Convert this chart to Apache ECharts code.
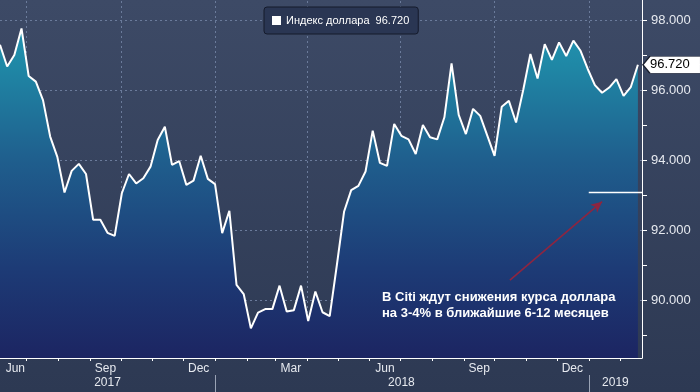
<!DOCTYPE html>
<html>
<head>
<meta charset="utf-8">
<script src="https://cdn.jsdelivr.net/npm/echarts@6/dist/echarts.min.js"></script>
<style>
html,body{margin:0;padding:0;background:#303d58;}
#chart{width:700px;height:392px;}
</style>
</head>
<body>
<div id="chart"></div>
<script>
// ---- data ----
const seriesName = 'Индекс доллара';
const firstWeek = '2017-06-05';          // weekly observations
const dollarIndex = [
  97.29, 96.67, 97.00, 97.76, 96.40, 96.24, 95.71, 94.67, 94.09, 93.07,
  93.69, 93.89, 93.60, 92.29, 92.29, 91.92, 91.83, 93.05, 93.60, 93.33,
  93.48, 93.81, 94.57, 94.95, 93.86, 93.97, 93.29, 93.41, 94.12, 93.46,
  93.31, 91.91, 92.55, 90.43, 90.17, 89.19, 89.64, 89.74, 89.74, 90.41,
  89.67, 89.71, 90.41, 89.40, 90.24, 89.65, 89.54, 91.00, 92.52, 93.14,
  93.26, 93.67, 94.84, 93.92, 93.83, 95.03, 94.69, 94.59, 94.17, 95.00,
  94.65, 94.59, 95.22, 96.76, 95.29, 94.74, 95.46, 95.26, 94.69, 94.12,
  95.52, 95.69, 95.07, 96.00, 97.03, 96.33, 97.31, 96.86, 97.36, 96.97,
  97.41, 97.12, 96.60, 96.14, 95.92, 96.07, 96.31, 95.83, 96.08, 96.72
];
const lastValue = 96.72;
const xMin = '2017-06-05';
const xMax = '2019-02-22';
const yMin = 88.343;
const yMax = 98.571;
const yLabelValues = [90, 92, 94, 96, 98];
const yTickValues = [89, 90, 91, 92, 93, 94, 95, 96, 97, 98];
const monthTicks = ['2017-07-01','2017-08-01','2017-09-01','2017-10-01','2017-11-01','2017-12-01',
  '2018-01-01','2018-02-01','2018-03-01','2018-04-01','2018-05-01','2018-06-01','2018-07-01',
  '2018-08-01','2018-09-01','2018-10-01','2018-11-01','2018-12-01','2019-01-01','2019-02-01'];
const monthLabelDates = ['2017-06-20','2017-09-16','2017-12-16','2018-03-16','2018-06-16','2018-09-16','2018-12-16'];
const monthNames = ['Jan','Feb','Mar','Apr','May','Jun','Jul','Aug','Sep','Oct','Nov','Dec'];
const yearSeparators = ['2018-01-01','2019-01-01'];
const yearLabelDates = ['2017-09-18','2018-07-02','2019-01-27'];
const quarterLines = ['2017-07-01','2017-10-01','2018-01-01','2018-04-01','2018-07-01','2018-10-01','2019-01-01'];
const hGridValues = [90, 92, 94, 96, 98];
const citiTarget = 93.08;
const citiTargetStart = '2019-01-01';
const arrowFrom = ['2018-10-16', 90.57];
const arrowTo = ['2019-01-14', 92.81];
const noteText = 'В Citi ждут снижения курса доллара\nна 3-4% в ближайшие 6-12 месяцев';

// ---- build ----
function ts(s) { const p = s.split('-').map(Number); return new Date(p[0], p[1]-1, p[2]).getTime(); }
const seriesData = dollarIndex.map(function (v, i) {
  const p = firstWeek.split('-').map(Number);
  const d = new Date(p[0], p[1]-1, p[2] + 7*i);
  return [d.getTime(), v];
});
const lastDate = seriesData[seriesData.length-1][0];

const FONT = 'Liberation Sans';
const gridStyle = { color: '#6b7b9b', width: 1, type: [2, 3] };

const gridLineData = [];
quarterLines.forEach(function (d) {
  gridLineData.push([{ coord: [ts(d), yMin], lineStyle: gridStyle }, { coord: [ts(d), yMax] }]);
});
hGridValues.forEach(function (v) {
  gridLineData.push([{ coord: [ts(xMin), v], lineStyle: gridStyle }, { coord: [ts(xMax), v] }]);
});

const annotationData = [
  [
    { coord: [ts(citiTargetStart), citiTarget], lineStyle: { color: '#ffffff', width: 1.3, type: 'solid' }, symbol: 'none' },
    { coord: [ts(xMax), citiTarget], symbol: 'none' }
  ],
  [
    { coord: [ts(arrowFrom[0]), arrowFrom[1]], lineStyle: { color: '#8e2540', width: 1.6, type: 'solid' }, symbol: 'none' },
    { coord: [ts(arrowTo[0]), arrowTo[1]], symbol: 'arrow', symbolSize: [8, 11] }
  ]
];

const chart = echarts.init(document.getElementById('chart'), null, { renderer: 'canvas' });
chart.setOption({
  animation: false,
  backgroundColor: {
    type: 'linear', x: 0, y: 0, x2: 0, y2: 1,
    colorStops: [{ offset: 0, color: '#3d4a66' }, { offset: 1, color: '#2d3953' }]
  },
  textStyle: { fontFamily: FONT },
  grid: { left: 0, right: 58, top: 0, bottom: 34, containLabel: false },
  legend: {
    left: 264, top: 7, z: 50,
    padding: [8, 9, 8, 8],
    backgroundColor: '#2a3653',
    borderColor: '#141a2b', borderWidth: 1, borderRadius: 3,
    itemWidth: 9, itemHeight: 9,
    icon: 'rect',
    itemStyle: { color: '#ffffff', borderColor: '#ffffff', borderWidth: 0 },
    data: [seriesName],
    formatter: function (n) { return n + '  ' + lastValue.toFixed(3); },
    textStyle: { color: '#ffffff', fontSize: 11, fontFamily: FONT }
  },
  xAxis: [
    {
      type: 'value', min: ts(xMin), max: ts(xMax), position: 'bottom',
      axisLine: { show: true, lineStyle: { color: '#ffffff', width: 1 } },
      axisTick: { show: true, length: 3, lineStyle: { color: '#ffffff' }, customValues: monthTicks.map(ts) },
      axisLabel: {
        show: true, margin: 5, color: '#e6e9ef', fontSize: 12, fontFamily: FONT,
        customValues: monthLabelDates.map(ts),
        formatter: function (v) { return monthNames[new Date(v).getMonth()]; }
      },
      splitLine: { show: false }
    },
    {
      type: 'value', min: ts(xMin), max: ts(xMax), position: 'bottom', offset: 17,
      axisLine: { show: false },
      axisTick: { show: true, length: 17, lineStyle: { color: '#9aa3b5' }, customValues: yearSeparators.map(ts) },
      axisLabel: {
        show: true, margin: 2, color: '#e6e9ef', fontSize: 12, fontFamily: FONT,
        customValues: yearLabelDates.map(ts),
        formatter: function (v) { return String(new Date(v).getFullYear()); }
      },
      splitLine: { show: false }
    }
  ],
  yAxis: {
    type: 'value', position: 'right', min: yMin, max: yMax,
    axisLine: { show: true, lineStyle: { color: '#ffffff', width: 1 } },
    axisTick: { show: true, length: 5, lineStyle: { color: '#ffffff' }, customValues: yTickValues },
    axisLabel: {
      show: true, margin: 9, color: '#e6e9ef', fontSize: 13, fontFamily: FONT,
      customValues: yLabelValues,
      formatter: function (v) { return Number(v).toFixed(3); }
    },
    splitLine: { show: false }
  },
  series: [
    {
      name: seriesName,
      type: 'line',
      data: seriesData,
      symbol: 'none',
      z: 2,
      lineStyle: { color: '#ffffff', width: 2 },
      itemStyle: { color: '#ffffff' },
      areaStyle: {
        origin: 'start',
        color: {
          type: 'linear', x: 0, y: 0, x2: 0, y2: 358, global: true,
          colorStops: [
            { offset: 0, color: '#259bb8' },
            { offset: 0.18, color: '#1f88a6' },
            { offset: 0.45, color: '#1f5e8d' },
            { offset: 0.75, color: '#1d3b76' },
            { offset: 1, color: '#1c2562' }
          ]
        },
        opacity: 1
      },
      markPoint: {
        silent: true, animation: false,
        data: [{ coord: [lastDate, lastValue] }],
        symbol: 'path://M0,8.5L7,0L58,0L58,17L7,17Z',
        symbolSize: [58, 17],
        symbolOffset: [34, 0],
        itemStyle: { color: '#ffffff', borderColor: '#1a1f2e', borderWidth: 1 },
        label: {
          show: true, position: 'inside', offset: [-2, 0],
          formatter: lastValue.toFixed(3), color: '#000000', fontSize: 13, fontFamily: FONT
        }
      }
    },
    {
      name: 'gridlines',
      type: 'line',
      data: [],
      z: 1,
      markLine: {
        silent: true, symbol: 'none', animation: false, z: 1,
        label: { show: false },
        data: gridLineData
      }
    },
    {
      name: 'annotations',
      type: 'line',
      data: [],
      z: 4,
      markLine: {
        silent: true, symbol: 'none', animation: false,
        label: { show: false },
        data: annotationData
      }
    }
  ],
  graphic: [{
    type: 'text', left: 382, top: 289, silent: true, z: 100,
    style: { text: noteText, fill: '#ffffff', font: 'bold 13px "Liberation Sans"', lineHeight: 16 }
  }]
});
</script>
</body>
</html>
